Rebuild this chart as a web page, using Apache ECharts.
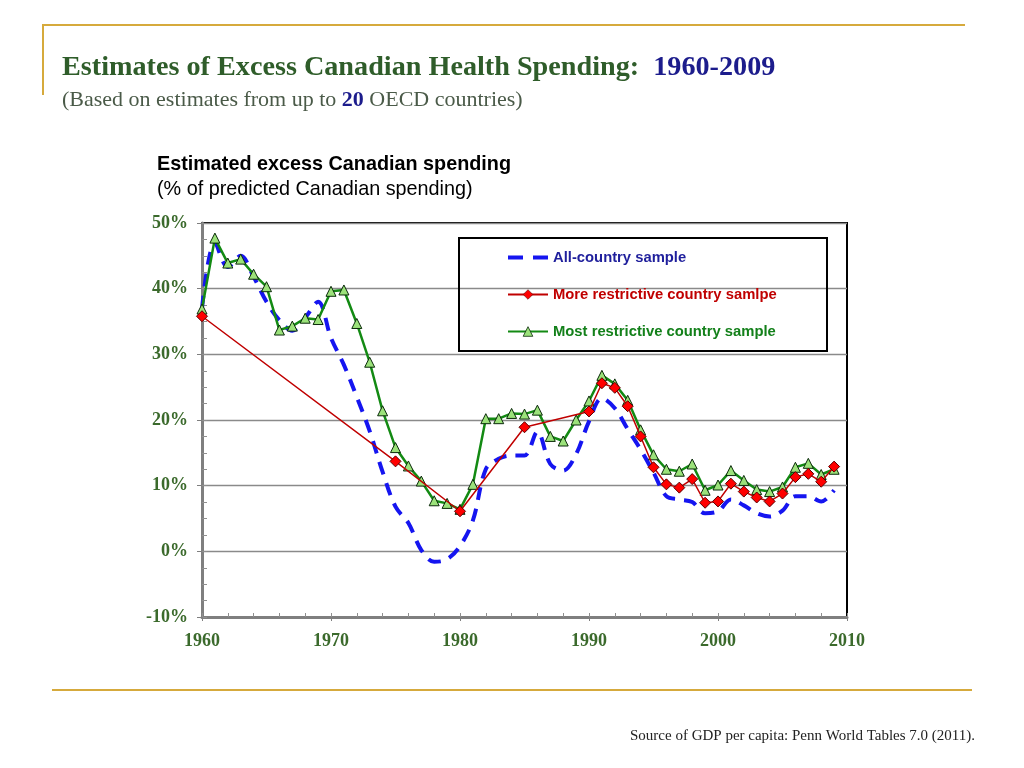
<!DOCTYPE html>
<html>
<head>
<meta charset="utf-8">
<script src="https://cdn.jsdelivr.net/npm/echarts@6/dist/echarts.min.js"></script>
<style>
html,body{margin:0;padding:0;background:#fff;}
#chart{width:1024px;height:768px;}
</style>
</head>
<body>
<div id="chart"></div>
<script>
var years = [1960,1961,1962,1963,1964,1965,1966,1967,1968,1969,
             1970,1971,1972,1973,1974,1975,1976,1977,1978,1979,
             1980,1981,1982,1983,1984,1985,1986,1987,1988,1989,
             1990,1991,1992,1993,1994,1995,1996,1997,1998,1999,
             2000,2001,2002,2003,2004,2005,2006,2007,2008,2009];

var allCountry = [37.0,47.0,43.3,45.0,41.8,38.0,35.2,33.6,35.6,38.0,
                  32.5,28.4,23.5,18.3,12.1,6.8,4.3,0.2,-1.6,-1.2,
                  0.8,4.7,12.5,14.1,14.6,14.6,18.2,13.3,12.3,14.8,
                  19.8,23.3,21.8,18.6,15.5,12.0,8.4,7.9,7.5,5.8,
                  6.1,7.9,7.0,5.8,5.3,6.2,8.4,8.4,7.6,9.3];

var moreRestrictive = [35.8,null,null,null,null,null,null,null,null,null,
                       null,null,null,null,null,13.7,null,null,null,null,
                       6.1,null,null,null,null,18.9,null,null,null,null,
                       21.3,25.6,24.9,22.1,17.5,12.8,10.2,9.7,11.0,7.4,
                       7.6,10.3,9.1,8.2,7.6,8.8,11.3,11.8,10.6,12.9];

var mostRestrictive = [36.9,47.7,43.9,44.5,42.2,40.3,33.7,34.3,35.5,35.3,
                       39.6,39.8,34.7,28.8,21.4,15.8,13.0,10.7,7.7,7.3,
                       6.4,10.2,20.2,20.2,21.0,20.9,21.5,17.5,16.8,20.0,
                       22.9,26.8,25.5,23.0,18.5,14.7,12.5,12.2,13.3,9.3,
                       10.1,12.3,10.8,9.4,9.1,9.8,12.8,13.4,11.7,12.5];

var seriesNames = ['All-country sample','More restrictive country samlpe','Most restrictive country sample'];

function pairs(vals){
  var out = [];
  for (var i = 0; i < years.length; i++) {
    if (vals[i] !== null) out.push([years[i], vals[i]]);
  }
  return out;
}

var labelColor = '#3B6A2C';
var serif = '"Liberation Serif","Times New Roman",serif';
var sans = '"Liberation Sans",Arial,sans-serif';
var gold = '#D6AA3C';
var transparent = 'rgba(0,0,0,0)';

var chart = echarts.init(document.getElementById('chart'), null, {renderer:'canvas'});
chart.setOption({
  animation: false,
  backgroundColor: '#fff',
  title: [{
    left: 57, top: 49,
    text: '{a|Estimates of Excess Canadian Health Spending:  }{b|1960-2009}',
    textStyle: {
      rich: {
        a: {fontFamily: serif, fontSize: 28.2, color: '#2F5D2A', fontWeight: 'bold'},
        b: {fontFamily: serif, fontSize: 28.2, color: '#1C1C8C', fontWeight: 'bold'}
      }
    }
  },{
    left: 57, top: 84,
    text: '{a|(Based on estimates from up to }{b|20}{a| OECD countries)}',
    textStyle: {
      fontWeight: 'normal',
      rich: {
        a: {fontFamily: serif, fontSize: 22, color: '#4A5A48', fontWeight: 'normal'},
        b: {fontFamily: serif, fontSize: 22, color: '#1C1C8C', fontWeight: 'bold'}
      }
    }
  },{
    left: 152, top: 147,
    text: '{a|Estimated excess Canadian spending}\n{b|(% of predicted Canadian spending)}',
    textStyle: {
      fontWeight: 'normal',
      rich: {
        a: {fontFamily: sans, fontSize: 19.8, fontWeight: 'bold', color: '#000', lineHeight: 25},
        b: {fontFamily: sans, fontSize: 19.8, fontWeight: 'normal', color: '#000', lineHeight: 25}
      }
    }
  },{
    right: 44, top: 724,
    text: 'Source of GDP per capita: Penn World Tables 7.0 (2011).',
    textStyle: {fontFamily: serif, fontSize: 15, color: '#222', fontWeight: 'normal'}
  }],
  grid: {
    left: 202, top: 223, width: 645, height: 394,
    show: true, borderColor: '#000', borderWidth: 2, backgroundColor: '#fff'
  },
  legend: {
    orient: 'vertical',
    left: 501, top: 245,
    padding: 5,
    itemWidth: 40, itemHeight: 12, itemGap: 22,
    data: [
      {name: seriesNames[0], textStyle: {color: '#1F1F9C'},
       itemStyle: {color: transparent, borderColor: transparent, borderWidth: 0},
       lineStyle: {type: [15, 10], width: 4, color: '#1515F0'}},
      {name: seriesNames[1], textStyle: {color: '#C00000'},
       itemStyle: {color: '#FF0000', borderColor: '#5A0000', borderWidth: 0.6}},
      {name: seriesNames[2], textStyle: {color: '#13801A'},
       itemStyle: {color: '#9BE27A', borderColor: '#0A2A0A', borderWidth: 0.8}}
    ],
    textStyle: {fontFamily: sans, fontSize: 14.8, fontWeight: 'bold'}
  },
  xAxis: [{
    type: 'value', min: 1960, max: 2010, interval: 10,
    axisLine: {show: true, onZero: false, lineStyle: {color: '#7F7F7F', width: 3}},
    axisTick: {show: true, inside: false, length: 4, lineStyle: {color: '#7F7F7F'}},
    axisLabel: {
      fontFamily: serif, fontSize: 18, fontWeight: 'bold', color: labelColor, margin: 15,
      formatter: function(v){ return String(v); }
    },
    splitLine: {show: false}
  },{
    type: 'value', min: 1960, max: 2010, interval: 2, position: 'bottom',
    axisLine: {show: false, onZero: false},
    axisTick: {show: true, inside: true, length: 4, lineStyle: {color: '#8F8F8F'}},
    axisLabel: {show: false},
    splitLine: {show: false}
  }],
  yAxis: [{
    type: 'value', min: -10, max: 50, interval: 10,
    axisLine: {show: true, onZero: false, lineStyle: {color: '#7F7F7F', width: 3}},
    axisTick: {show: true, inside: false, length: 5, lineStyle: {color: '#7F7F7F'}},
    axisLabel: {
      fontFamily: serif, fontSize: 18, fontWeight: 'bold', color: labelColor, margin: 14,
      formatter: function(v){ return v + '%'; }
    },
    splitLine: {show: true, lineStyle: {color: '#8A8A8A', width: 1.3}}
  },{
    type: 'value', min: -10, max: 50, interval: 2.5, position: 'left',
    axisLine: {show: false, onZero: false},
    axisTick: {show: true, inside: true, length: 5, lineStyle: {color: '#8F8F8F'}},
    axisLabel: {show: false},
    splitLine: {show: false}
  }],
  series: [{
    name: seriesNames[0], type: 'line', z: 2,
    data: pairs(allCountry),
    smooth: 0.35,
    showSymbol: false, symbol: 'none',
    lineStyle: {color: '#1515F0', width: 4, type: [13, 9]},
    itemStyle: {color: '#1515F0'}
  },{
    name: seriesNames[1], type: 'line', z: 4,
    data: pairs(moreRestrictive),
    symbol: 'diamond', symbolSize: 11,
    lineStyle: {color: '#C00000', width: 1.5},
    itemStyle: {color: '#FF0000', borderColor: '#5A0000', borderWidth: 1}
  },{
    name: seriesNames[2], type: 'line', z: 3,
    data: pairs(mostRestrictive),
    symbol: 'triangle', symbolSize: 10,
    lineStyle: {color: '#138A13', width: 2.5},
    itemStyle: {color: '#9BE27A', borderColor: '#0A2A0A', borderWidth: 1}
  }],
  graphic: [
    {type: 'line', shape: {x1: 42, y1: 25, x2: 965, y2: 25}, style: {stroke: gold, lineWidth: 2}},
    {type: 'line', shape: {x1: 43, y1: 25, x2: 43, y2: 95}, style: {stroke: gold, lineWidth: 2}},
    {type: 'line', shape: {x1: 52, y1: 690, x2: 972, y2: 690}, style: {stroke: gold, lineWidth: 2}},
    {type: 'rect', z: 5, shape: {x: 459, y: 238, width: 368, height: 113},
     style: {fill: transparent, stroke: '#000', lineWidth: 2}, silent: true},
    {type: 'rect', z: -1, zlevel: 0, shape: {x: 460, y: 239, width: 366, height: 111},
     style: {fill: '#fff'}, silent: true}
  ]
});
</script>
</body>
</html>
